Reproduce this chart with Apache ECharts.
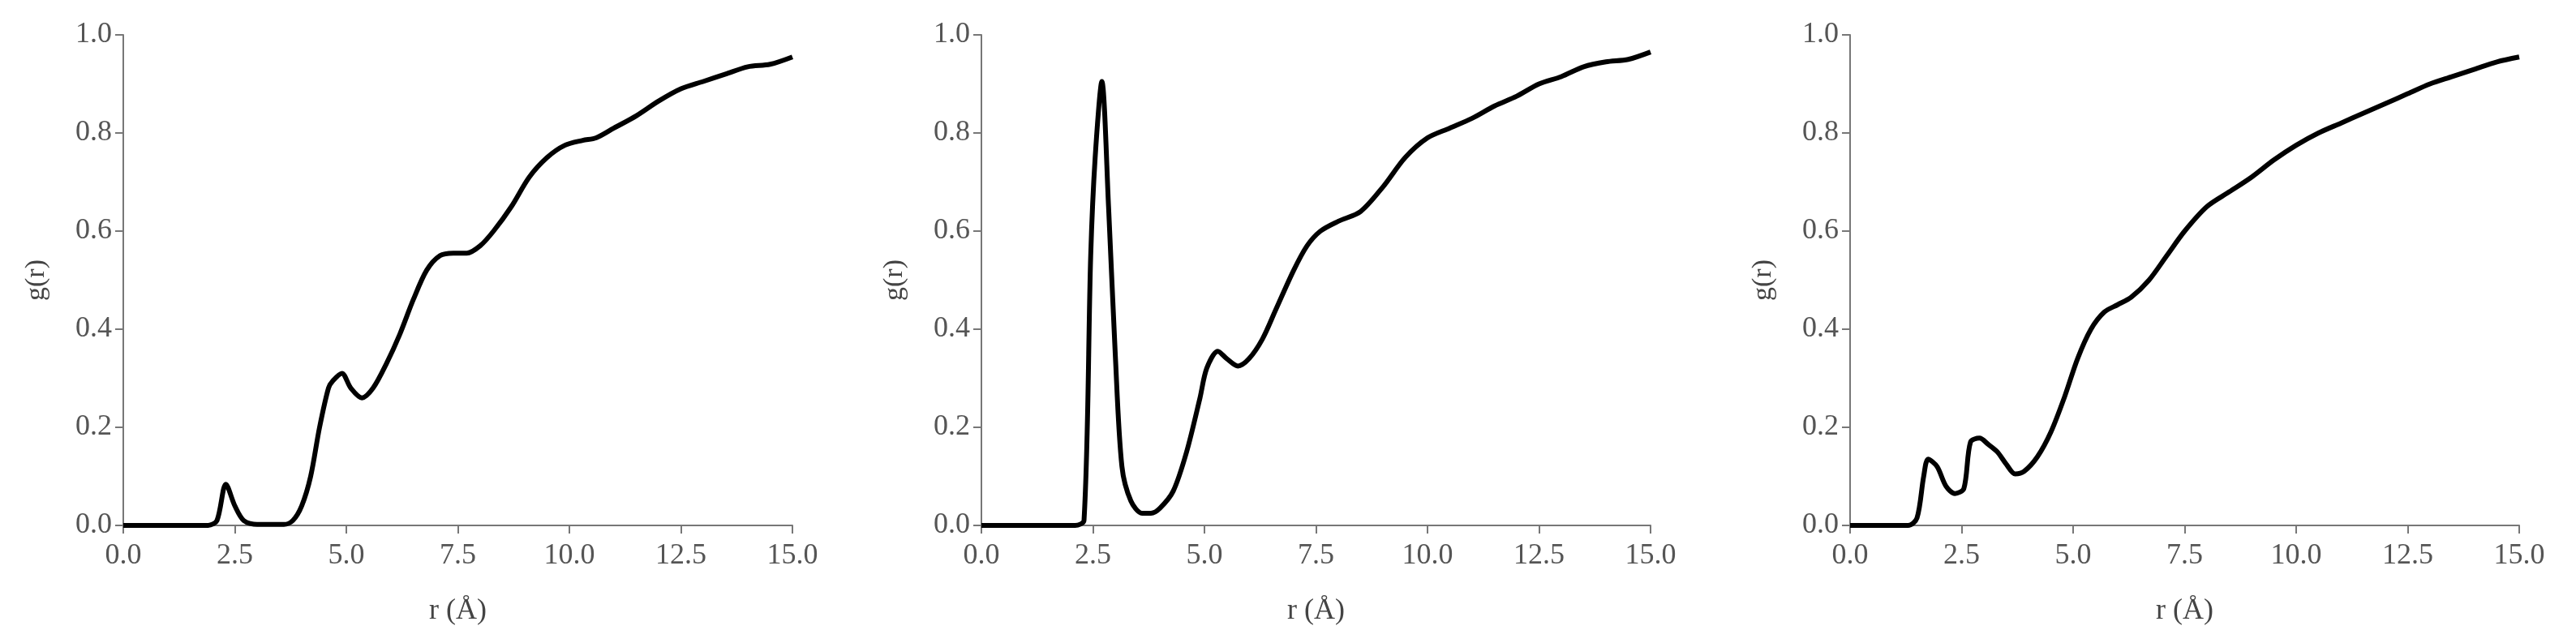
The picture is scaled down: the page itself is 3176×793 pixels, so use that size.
<!DOCTYPE html>
<html><head><meta charset="utf-8">
<script src="https://cdn.jsdelivr.net/npm/echarts@6/dist/echarts.min.js"></script>
<style>html,body{margin:0;background:#fff}#c{width:3176px;height:793px}</style>
</head><body><div id="c"></div>
<script>
const xTicks = ['0.0','2.5','5.0','7.5','10.0','12.5','15.0'];
const yTicks = ['0.0','0.2','0.4','0.6','0.8','1.0'];
const panel1 = [[0,0],[1.9,0],[2.1,0.01],[2.3,0.084],[2.5,0.04],[2.7,0.01],[3.0,0.002],[3.6,0.002],[3.8,0.01],[4.0,0.04],[4.2,0.1],[4.4,0.2],[4.6,0.28],[4.7,0.295],[4.9,0.31],[5.1,0.28],[5.35,0.26],[5.6,0.28],[5.9,0.33],[6.2,0.39],[6.5,0.46],[6.8,0.52],[7.1,0.55],[7.4,0.555],[7.7,0.555],[8.0,0.57],[8.3,0.6],[8.7,0.65],[9.1,0.71],[9.5,0.75],[9.9,0.775],[10.3,0.785],[10.6,0.79],[11.0,0.81],[11.5,0.835],[12.0,0.865],[12.5,0.89],[13.0,0.905],[13.5,0.92],[14.0,0.935],[14.5,0.94],[15.0,0.955]];
const panel2 = [[0,0],[2.1,0],[2.3,0.01],[2.45,0.55],[2.55,0.75],[2.7,0.905],[2.85,0.65],[3.0,0.35],[3.15,0.12],[3.35,0.05],[3.6,0.025],[3.8,0.025],[4.0,0.035],[4.3,0.07],[4.6,0.15],[4.9,0.26],[5.05,0.32],[5.3,0.355],[5.5,0.34],[5.75,0.325],[6.0,0.34],[6.3,0.38],[6.6,0.44],[7.0,0.52],[7.3,0.57],[7.6,0.6],[8.0,0.62],[8.5,0.64],[9.0,0.69],[9.5,0.75],[10.0,0.79],[10.5,0.81],[11.0,0.83],[11.5,0.855],[12.0,0.875],[12.5,0.9],[13.0,0.915],[13.5,0.935],[14.0,0.945],[14.5,0.95],[15.0,0.965]];
const panel3 = [[0,0],[1.3,0],[1.5,0.015],[1.65,0.1],[1.75,0.135],[1.95,0.12],[2.15,0.08],[2.35,0.065],[2.55,0.075],[2.7,0.17],[2.9,0.178],[3.1,0.165],[3.3,0.15],[3.5,0.125],[3.7,0.105],[3.9,0.11],[4.2,0.14],[4.5,0.19],[4.8,0.26],[5.1,0.34],[5.4,0.4],[5.7,0.435],[6.0,0.45],[6.3,0.465],[6.7,0.5],[7.1,0.55],[7.5,0.6],[8.0,0.65],[8.5,0.68],[9.0,0.71],[9.5,0.745],[10.0,0.775],[10.5,0.8],[11.0,0.82],[11.5,0.84],[12.0,0.86],[12.5,0.88],[13.0,0.9],[13.5,0.915],[14.0,0.93],[14.5,0.945],[15.0,0.955]];
const panels = [panel1, panel2, panel3];
const lefts = [152, 1210, 2281];
const font = 'Liberation Serif';
const grey = '#777';
const grid = [], xAxis = [], yAxis = [], series = [];
panels.forEach((p, i) => {
  grid.push({left: lefts[i], width: 825, top: 43, height: 605});
  xAxis.push({type:'value', gridIndex:i, min:0, max:15, interval:2.5,
    name:'r (Å)', nameLocation:'middle', nameGap:88,
    nameTextStyle:{fontFamily:font, fontSize:36, color:'#444'},
    axisLine:{lineStyle:{color:grey, width:2}}, axisTick:{length:10, lineStyle:{color:grey, width:2}},
    splitLine:{show:false},
    axisLabel:{fontFamily:font, fontSize:36, color:'#555', margin:20, formatter:v=>xTicks[Math.round(v/2.5)]}});
  yAxis.push({type:'value', gridIndex:i, min:0, max:1, interval:0.2,
    name:'g(r)', nameLocation:'middle', nameGap:90, nameRotate:90,
    nameTextStyle:{fontFamily:font, fontSize:34, color:'#444'},
    axisLine:{show:true, lineStyle:{color:grey, width:2}}, axisTick:{show:true, length:10, lineStyle:{color:grey, width:2}},
    splitLine:{show:false},
    axisLabel:{fontFamily:font, fontSize:36, color:'#555', margin:14, formatter:v=>yTicks[Math.round(v/0.2)]}});
  series.push({type:'line', xAxisIndex:i, yAxisIndex:i, data:p, symbol:'none', smooth:0.3,
    lineStyle:{color:'#000', width:6}, z:3});
});
const chart = echarts.init(document.getElementById('c'));
chart.setOption({animation:false, backgroundColor:'#fff', grid, xAxis, yAxis, series});
</script></body></html>
